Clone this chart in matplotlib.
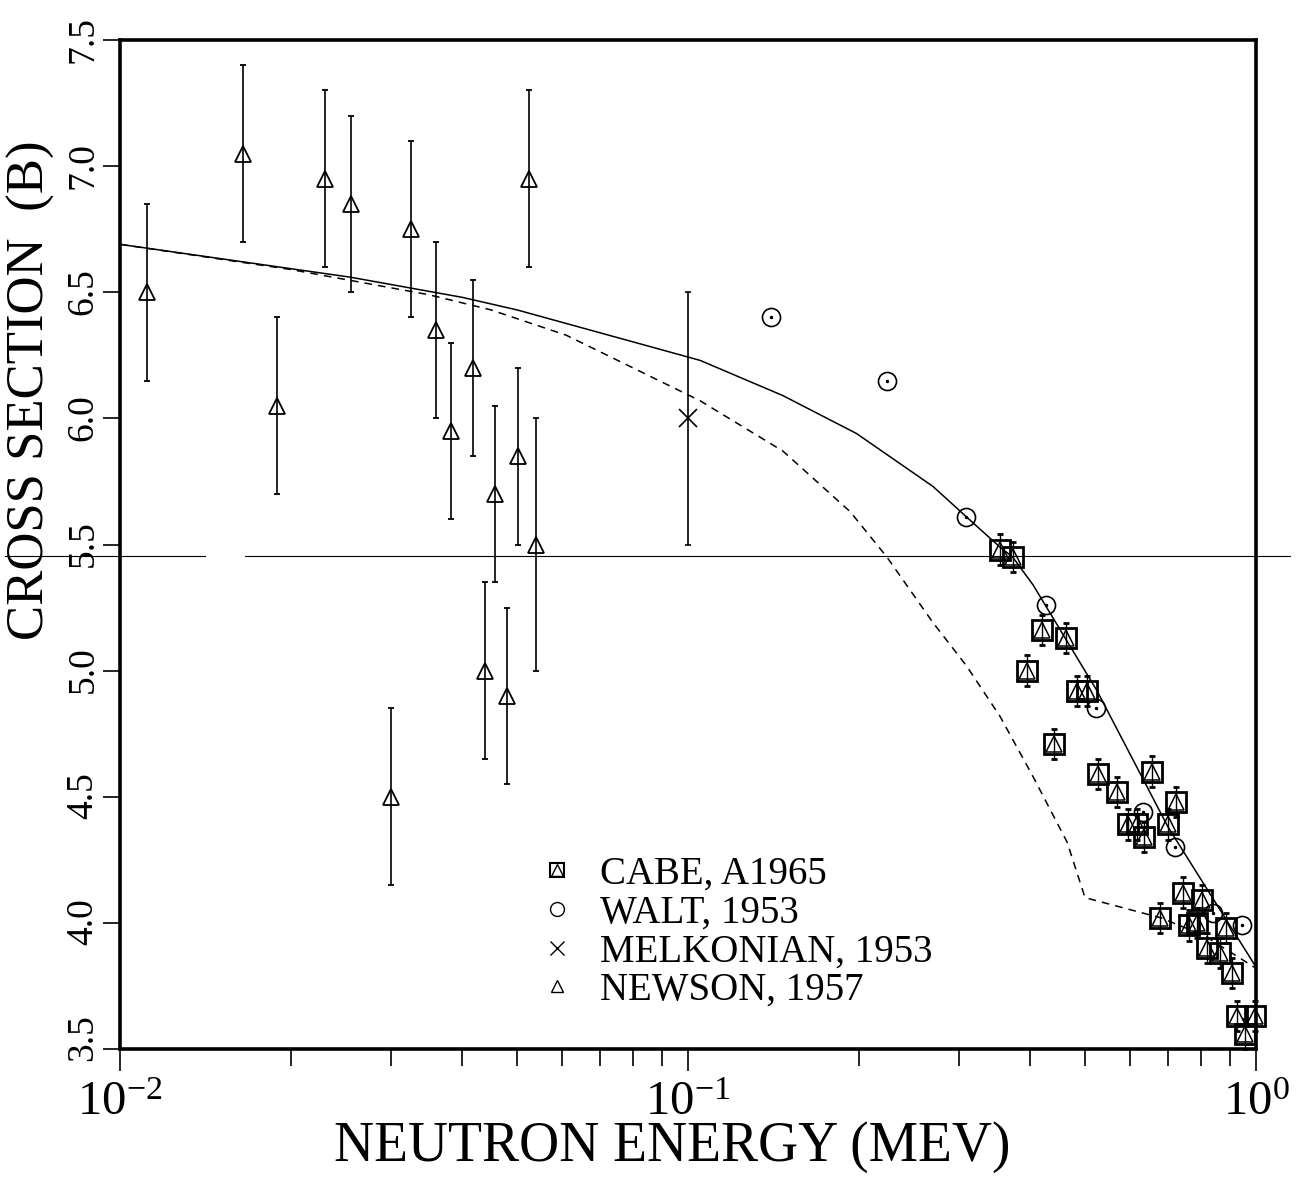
import matplotlib
matplotlib.use("Agg")
import matplotlib.pyplot as plt
import matplotlib.transforms as mtransforms
from matplotlib.lines import Line2D

plt.rcParams['font.family'] = 'serif'
plt.rcParams['font.serif'] = ['Liberation Serif', 'DejaVu Serif']
plt.rcParams['mathtext.fontset'] = 'stix'

# calculated curves (solid and dashed)
calc_e = [0.01, 0.0254, 0.04, 0.05, 0.105, 0.147, 0.198, 0.27, 0.309, 0.354, 0.373, 0.405, 0.525, 0.7, 1.0]
calc_s = [6.69, 6.56, 6.48, 6.43, 6.23, 6.09, 5.94, 5.73, 5.61, 5.49, 5.45, 5.34, 4.92, 4.38, 3.825]

dash_e = [0.01, 0.02, 0.035, 0.045, 0.061, 0.105, 0.147, 0.193, 0.224, 0.27, 0.309, 0.354, 0.405, 0.465, 0.5, 0.68, 0.81, 1.0]
dash_s = [6.69, 6.59, 6.49, 6.43, 6.33, 6.07, 5.87, 5.63, 5.45, 5.19, 5.02, 4.82, 4.58, 4.32, 4.10, 4.02, 3.95, 3.82]

# NEWSON, 1957
newson_e = [0.01116, 0.01646, 0.0189, 0.02295, 0.02552, 0.0300, 0.03255, 0.0360, 0.0383, 0.0418, 0.0439, 0.0457, 0.0480, 0.0502, 0.0525, 0.0540]
newson_s = [6.50, 7.05, 6.05, 6.95, 6.85, 4.50, 6.75, 6.35, 5.95, 6.20, 5.00, 5.70, 4.90, 5.85, 6.95, 5.50]
newson_err = [0.35, 0.35, 0.35, 0.35, 0.35, 0.35, 0.35, 0.35, 0.35, 0.35, 0.35, 0.35, 0.35, 0.35, 0.35, 0.50]

# MELKONIAN, 1953
melk_e = [0.1]
melk_s = [6.0]
melk_err = [0.5]

# WALT, 1953
walt_e = [0.140, 0.224, 0.309, 0.427, 0.523, 0.632, 0.720, 0.840, 0.945]
walt_s = [6.40, 6.15, 5.61, 5.26, 4.85, 4.44, 4.30, 4.04, 3.99]

# CABE, A1965
cabe_e = [0.354, 0.373, 0.395, 0.420, 0.441, 0.463, 0.484, 0.504, 0.527, 0.569, 0.595, 0.617, 0.635, 0.656,
          0.678, 0.700, 0.723, 0.744, 0.762, 0.787, 0.804, 0.820, 0.864, 0.885, 0.907, 0.926, 0.956, 0.995]
cabe_s = [5.48, 5.45, 5.00, 5.16, 4.71, 5.13, 4.92, 4.92, 4.59, 4.52, 4.39, 4.39, 4.34, 4.60,
          4.02, 4.39, 4.48, 4.12, 3.99, 4.00, 4.09, 3.90, 3.88, 3.98, 3.80, 3.63, 3.56, 3.63]
cabe_err = [0.06] * len(cabe_e)

y_ticks = [3.5, 4.0, 4.5, 5.0, 5.5, 6.0, 6.5, 7.0, 7.5]
artifact_y = 5.456

fig = plt.figure(figsize=(13.03, 11.77), dpi=100)
ax = fig.add_axes([120/1303, 128/1177, 1136/1303, 1009/1177])

ax.plot(calc_e, calc_s, color='black', lw=1.1)
ax.plot(dash_e, dash_s, color='black', lw=1.1, linestyle=(0, (5, 4)))

ax.errorbar(newson_e, newson_s, yerr=newson_err, fmt='^', ms=11, mfc='none', mec='black',
            mew=1.3, ecolor='black', elinewidth=1.2, capsize=2)
ax.errorbar(melk_e, melk_s, yerr=melk_err, fmt='x', ms=13, mec='black', mew=1.2,
            ecolor='black', elinewidth=1.2, capsize=2)
ax.plot(walt_e, walt_s, 'o', ms=13, mfc='none', mec='black', mew=1.2)
ax.plot(walt_e, walt_s, '.', ms=3, color='black')
ax.errorbar(cabe_e, cabe_s, yerr=cabe_err, fmt='s', ms=14, mfc='none', mec='black',
            mew=2.0, ecolor='black', elinewidth=1.0, capsize=2, clip_on=False)
ax.plot(cabe_e, cabe_s, '^', ms=11, mfc='none', mec='black', mew=1.1, clip_on=False)

# horizontal scan line running across the page
blend = mtransforms.blended_transform_factory(fig.transFigure, ax.transData)
for x0, x1 in [(0.004, 0.157), (0.188, 0.99)]:
    fig.add_artist(Line2D([x0, x1], [artifact_y, artifact_y], transform=blend, color='black', lw=0.8))

ax.set_xscale('log')
ax.set_xlim(0.01, 1.0)
ax.set_ylim(3.5, 7.5)
ax.set_yticks(y_ticks)
ax.set_yticklabels(['%.1f' % v for v in y_ticks])

for s in ax.spines.values():
    s.set_linewidth(2.6)

ax.tick_params(axis='x', which='major', direction='out', length=16, width=1.2, labelsize=35, pad=7)
ax.tick_params(axis='x', which='minor', direction='out', length=12, width=1.2)
ax.tick_params(axis='y', which='major', direction='out', length=12, width=1.2, labelsize=27,
               labelrotation=90, pad=2)

# rotated y labels sit a little above their ticks, the lowest one more so
for lab, v in zip(ax.get_yticklabels(), y_ticks):
    up = 22 if v == 3.5 else 11
    lab.set_transform(lab.get_transform() + mtransforms.ScaledTranslation(0, up / 100, fig.dpi_scale_trans))

ax.set_xlabel('NEUTRON ENERGY (MEV)', fontsize=40, va='center')
ax.xaxis.set_label_coords(0.486, -0.097)
ax.set_ylabel('CROSS SECTION  (B)', fontsize=38, va='center')
ax.yaxis.set_label_coords(-0.078, 0.653)

h_cabe = (Line2D([], [], marker='s', ms=10, mfc='none', mec='black', mew=1.5, ls='none'),
          Line2D([], [], marker='^', ms=8, mfc='none', mec='black', mew=1.0, ls='none'))
h_walt = Line2D([], [], marker='o', ms=10, mfc='none', mec='black', mew=1.0, ls='none')
h_melk = Line2D([], [], marker='x', ms=10, mec='black', mew=1.0, ls='none')
h_new = Line2D([], [], marker='^', ms=9, mfc='none', mec='black', mew=1.0, ls='none')
ax.legend([h_cabe, h_walt, h_melk, h_new],
          ['CABE, A1965', 'WALT, 1953', 'MELKONIAN, 1953', 'NEWSON, 1957'],
          loc='upper left', bbox_to_anchor=(0.368, 0.192), frameon=False, fontsize=28,
          handlelength=1.0, handletextpad=0.6, labelspacing=0.05, borderpad=0, borderaxespad=0)

fig.savefig('out.png', dpi=100)
